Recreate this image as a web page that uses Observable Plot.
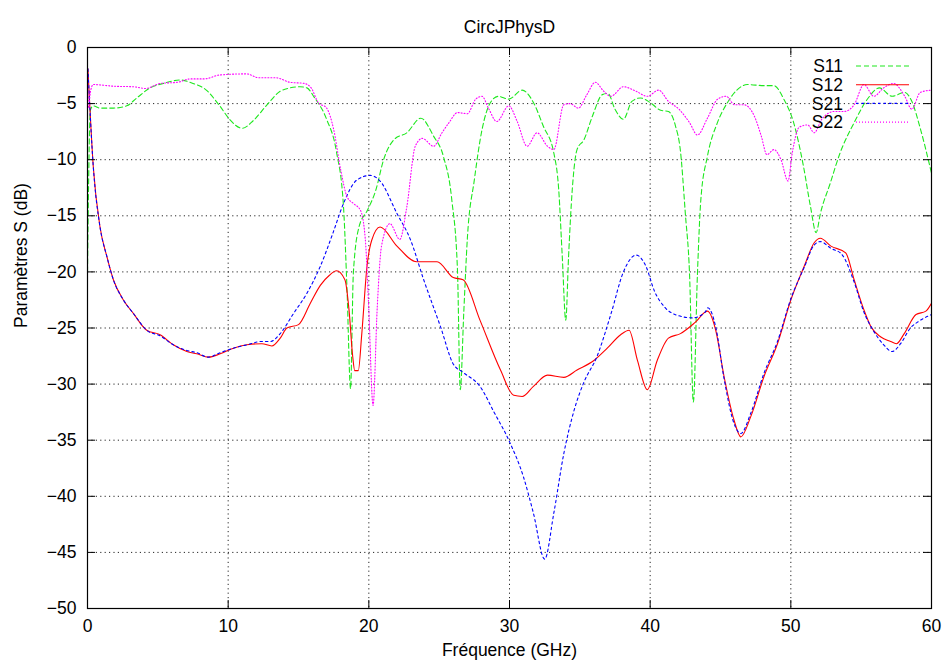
<!DOCTYPE html>
<html>
<head>
<meta charset="utf-8">
<script src="https://cdn.jsdelivr.net/npm/d3@7"></script>
<script src="https://cdn.jsdelivr.net/npm/@observablehq/plot@0.6"></script>
<style>
  html, body { margin: 0; padding: 0; background: #fff; }
  #chart svg { display: block; }
</style>
</head>
<body>
<div id="chart"></div>
<script>
// ---- data (frequency GHz, dB) ----
const title = "CircJPhysD";
const xLabel = "Fréquence (GHz)";
const yLabel = "Paramètres S (dB)";
const xTicks = [0, 10, 20, 30, 40, 50, 60];
const yTicks = [0, -5, -10, -15, -20, -25, -30, -35, -40, -45, -50];
const seriesNames = ["S11", "S12", "S21", "S22"];

const s11 = [[0,-20],[0.08,-12],[0.2,-5.6],[0.41,-5.2],[0.89,-5.4],[1.84,-5.4],[2.79,-5.2],[3.5,-4.5],[4.45,-3.6],[5.4,-3.2],[6.6,-2.9],[7.5,-3.2],[8.4,-3.75],[9.4,-5.2],[10.1,-6.4],[11.0,-7.2],[11.8,-6.5],[12.7,-5.2],[13.7,-3.9],[14.4,-3.6],[15.1,-3.5],[15.6,-3.6],[16.1,-4.4],[17.0,-6.4],[17.7,-9.3],[18.2,-14.2],[18.45,-21.6],[18.7,-30.4],[18.9,-20.1],[19.3,-16.0],[19.9,-14.5],[20.5,-12.7],[21.05,-10],[21.8,-8.2],[22.7,-7.6],[23.7,-6.3],[24.6,-7.9],[25.3,-9.7],[25.9,-13.6],[26.3,-19.8],[26.5,-30.5],[26.75,-23.6],[27.0,-17.1],[27.5,-11.8],[28.05,-7.3],[28.65,-4.9],[29.2,-4.35],[29.95,-4.6],[30.9,-3.8],[31.7,-4.9],[32.4,-7.0],[33.15,-9.4],[33.5,-12.7],[33.75,-18.6],[34.0,-24.3],[34.2,-18.6],[34.46,-12.7],[34.8,-9.1],[35.3,-8.2],[35.9,-6.1],[36.6,-4.2],[37.0,-4.1],[37.5,-5.5],[38.1,-6.4],[38.7,-4.8],[39.3,-4.5],[40.0,-4.9],[40.75,-5.6],[41.3,-5.7],[41.8,-7.0],[42.15,-9.2],[42.5,-14.8],[42.8,-20.2],[43.07,-31.6],[43.36,-20.2],[43.6,-13.6],[44.07,-9.7],[44.78,-6.7],[45.5,-4.9],[46.2,-3.75],[46.9,-3.3],[48.1,-3.4],[48.8,-3.4],[49.5,-4.6],[50.2,-6.7],[50.9,-10.6],[51.4,-14.2],[51.8,-16.5],[52.1,-14.8],[52.8,-12.1],[53.5,-9.4],[54.5,-6.7],[55.5,-4.5],[56.3,-3.6],[57.2,-4.35],[58.1,-4.0],[58.6,-4.8],[59.2,-7.2],[60,-11.2]];

const s12 = [[0.03,-1.9],[0.41,-10.6],[0.89,-16],[1.37,-18.6],[1.84,-20.7],[2.55,-22.5],[3.26,-23.7],[4.21,-25.2],[5.16,-25.6],[6.1,-26.5],[7.06,-27.1],[7.77,-27.3],[8.6,-27.6],[9.43,-27.3],[10.38,-26.8],[11.33,-26.5],[12.4,-26.4],[13.1,-26.6],[13.7,-25.9],[14.18,-25.0],[15.0,-24.7],[15.84,-22.8],[16.55,-21.2],[17.2,-20.3],[17.7,-19.9],[18.3,-20.7],[18.6,-23.5],[18.85,-27.5],[19.0,-28.8],[19.25,-28.8],[19.5,-25.5],[19.87,-19.5],[20.2,-17.2],[20.8,-16.0],[22.0,-17.7],[23.4,-19.1],[24.85,-19.1],[26.0,-20.5],[26.7,-20.7],[27.9,-24.3],[29.36,-28.75],[30.3,-31.0],[30.9,-31.1],[31.7,-30.2],[32.7,-29.2],[33.86,-29.4],[34.8,-28.75],[36.0,-27.9],[36.95,-26.8],[37.9,-25.6],[38.5,-25.2],[39.1,-27.9],[39.8,-30.5],[40.5,-27.9],[41.3,-25.9],[42.15,-25.5],[43.2,-24.5],[44.07,-23.5],[44.66,-25.2],[45.25,-29.3],[45.96,-33.2],[46.44,-34.7],[47.15,-32.9],[48.1,-29.3],[49.05,-26.4],[50.0,-22.5],[50.95,-19.5],[51.66,-17.4],[52.1,-17.0],[52.85,-17.7],[53.9,-18.3],[54.5,-20.7],[55.2,-23.4],[55.7,-24.9],[56.4,-25.8],[57.1,-26.2],[57.5,-26.4],[58.06,-25.5],[58.9,-23.8],[59.6,-23.5],[60,-22.8]];

const s21 = [[0.03,-1.9],[0.41,-10.6],[0.89,-16],[1.37,-18.6],[1.84,-20.7],[2.55,-22.5],[3.26,-23.7],[4.21,-25.2],[5.16,-25.7],[6.1,-26.5],[7.06,-27.0],[7.77,-27.2],[8.6,-27.6],[9.43,-27.2],[10.38,-26.8],[11.33,-26.5],[12.4,-26.2],[13.0,-26.2],[13.7,-25.5],[14.65,-23.7],[15.6,-21.9],[16.55,-19.5],[17.46,-16.5],[18.2,-13.9],[19.16,-11.8],[20.1,-11.4],[20.8,-11.9],[22.0,-14.8],[22.95,-17.1],[23.9,-20.7],[25.1,-24.9],[26.0,-28.2],[26.75,-29.0],[27.9,-30.2],[28.9,-32.5],[29.95,-35.0],[31.0,-38.3],[31.7,-41.5],[32.5,-45.6],[33.15,-41.5],[33.86,-36.2],[34.6,-32.3],[35.3,-29.8],[36.2,-27.6],[37.2,-23.8],[38.1,-20.0],[39.0,-18.5],[39.7,-19.5],[40.3,-21.7],[41.0,-23.1],[42.0,-23.9],[43.0,-24.1],[43.9,-23.6],[44.1,-23.2],[44.66,-24.9],[45.25,-29.5],[45.96,-33.5],[46.44,-34.4],[47.15,-32.6],[48.1,-29.0],[49.05,-26.2],[50.0,-22.4],[50.95,-19.6],[51.66,-17.6],[52.1,-17.3],[52.85,-17.9],[53.6,-18.4],[54.5,-20.9],[55.2,-23.6],[55.9,-25.3],[56.6,-26.5],[57.2,-27.1],[57.8,-26.4],[58.5,-25.0],[59.1,-24.4],[60,-23.8]];

const s22 = [[0,-2],[0.08,-5.4],[0.2,-4.0],[0.41,-3.3],[1.84,-3.45],[3.3,-3.5],[4.1,-3.65],[5.2,-3.2],[6.4,-3.1],[7.3,-2.8],[8.3,-2.8],[9.4,-2.45],[11.3,-2.35],[12.2,-2.7],[13.4,-2.7],[14.4,-3.1],[15.4,-3.2],[15.9,-3.6],[16.4,-4.9],[17.0,-5.4],[17.5,-7.3],[18.0,-10.9],[18.45,-13.3],[18.9,-13.9],[19.4,-14.5],[19.75,-17.1],[19.99,-23.1],[20.3,-31.9],[20.6,-23.1],[20.9,-17.7],[21.5,-15.7],[22.2,-17.1],[22.7,-14.2],[23.3,-8.8],[23.8,-8.1],[24.6,-8.8],[25.2,-7.6],[25.7,-6.7],[26.3,-5.8],[27.0,-5.9],[27.6,-4.6],[28.05,-4.35],[28.5,-5.4],[29.1,-6.6],[29.95,-5.2],[30.55,-6.6],[31.25,-8.8],[31.96,-7.6],[32.7,-8.8],[33.15,-9.1],[33.86,-5.1],[34.3,-5.0],[34.9,-5.4],[35.5,-4.2],[36.1,-3.1],[36.7,-3.9],[37.2,-4.35],[38.1,-3.5],[39.0,-3.9],[39.8,-4.35],[40.6,-3.8],[41.3,-4.8],[42.05,-5.5],[42.8,-6.7],[43.36,-7.8],[44.07,-6.3],[44.8,-4.6],[45.4,-4.35],[46.0,-5.1],[46.66,-5.1],[47.4,-6.1],[47.9,-7.9],[48.3,-9.55],[48.8,-9.1],[49.3,-10],[49.8,-11.9],[50.1,-9.4],[50.6,-7.1],[51.2,-6.9],[51.66,-7.6],[52.2,-6.4],[53.1,-5.7],[53.8,-5.7],[54.5,-5.1],[55.2,-3.3],[55.9,-4.35],[56.6,-3.6],[57.3,-3.2],[58.1,-4.35],[58.6,-5.5],[59.2,-4.0],[60,-3.8]];

// ---- styles ----
const styles = {
  S11: {stroke: "#1ee81e", dash: "5,3"},
  S12: {stroke: "#ff0000", dash: null},
  S21: {stroke: "#0000ff", dash: "2.5,3"},
  S22: {stroke: "#ff00ff", dash: "1,2"}
};
const seriesData = {S11: s11, S12: s12, S21: s21, S22: s22};
const FONT = "'Liberation Sans', Arial, Helvetica, sans-serif";
const FS = 17.5;

const lineMarks = seriesNames.map(name => Plot.line(seriesData[name], {
  x: d => d[0], y: d => d[1],
  stroke: styles[name].stroke,
  strokeWidth: 1.1,
  strokeDasharray: styles[name].dash,
  curve: "monotone-x",
  clip: true
}));

const chart = Plot.plot({
  width: 946,
  height: 667,
  marginLeft: 87,
  marginRight: 15,
  marginTop: 47,
  marginBottom: 59,
  style: {fontFamily: FONT, fontSize: FS + "px", background: "#fff", color: "#000"},
  x: {domain: [0, 60]},
  y: {domain: [-50, 0]},
  marks: [
    Plot.gridX(xTicks, {stroke: "#000", strokeOpacity: 0.85, strokeDasharray: "1.2,3.2"}),
    Plot.gridY(yTicks, {stroke: "#000", strokeOpacity: 0.85, strokeDasharray: "1.2,3.2"}),
    ...lineMarks,
    // tick labels
    Plot.axisX(xTicks, {anchor: "bottom", tickSize: 0, tickPadding: 11, label: null, fontSize: FS}),
    Plot.axisY(yTicks, {anchor: "left", tickSize: 0, tickPadding: 11, label: null, fontSize: FS}),
    // inward tick marks on all four sides (gnuplot style)
    Plot.tickY(yTicks, {y: d => d, stroke: "#000", insetRight: 844 - 8}),
    Plot.tickY(yTicks, {y: d => d, stroke: "#000", insetLeft: 844 - 8}),
    Plot.tickX(xTicks, {x: d => d, stroke: "#000", insetBottom: 561 - 8}),
    Plot.tickX(xTicks, {x: d => d, stroke: "#000", insetTop: 561 - 8}),
    Plot.frame({stroke: "#000", strokeWidth: 1.2}),
    // title & axis labels
    Plot.text([title], {frameAnchor: "top", dy: -27, fontSize: FS, fill: "#000"}),
    Plot.text([xLabel], {frameAnchor: "bottom", dy: 47, fontSize: FS, fill: "#000"}),
    Plot.text([yLabel], {frameAnchor: "left", dx: -66, rotate: -90, fontSize: FS, fill: "#000"})
  ]
});

document.getElementById("chart").appendChild(chart);

// ---- legend (positioned relative to the plot frame) ----
(function addLegend() {
  const svg = d3.select(chart);
  const xs = chart.scale("x"), ys = chart.scale("y");
  const right = xs.apply(60), top = ys.apply(0);
  const g = svg.append("g").attr("font-family", FONT).attr("font-size", FS + "px");
  seriesNames.forEach((name, i) => {
    const cy = top + 19 + i * 18.7;
    g.append("text")
      .attr("x", right - 88).attr("y", cy).attr("dy", "0.35em")
      .attr("text-anchor", "end").attr("fill", "#000").text(name);
    g.append("line")
      .attr("x1", right - 75).attr("x2", right - 22)
      .attr("y1", cy).attr("y2", cy)
      .attr("stroke", styles[name].stroke)
      .attr("stroke-width", 1.1)
      .attr("stroke-dasharray", styles[name].dash);
  });
})();
</script>
</body>
</html>
